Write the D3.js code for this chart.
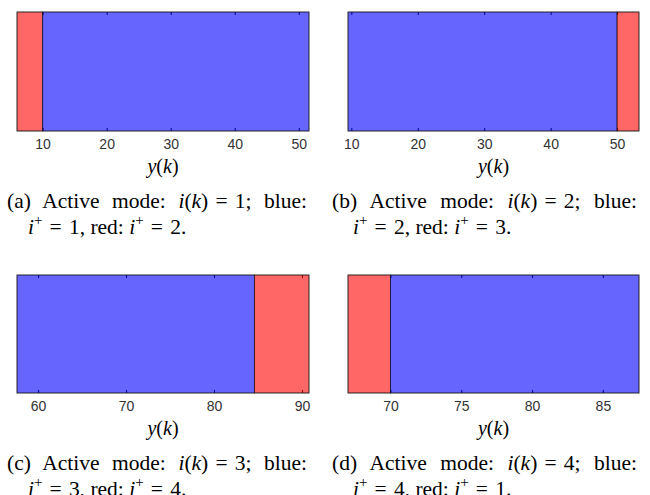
<!DOCTYPE html>
<html>
<head>
<meta charset="utf-8">
<style>
  body { margin: 0; background: #fff; }
  .axis text { font: 14px Arial, "Liberation Sans", sans-serif; fill: #333; }
  .lbl { font: 20px "Liberation Serif", "Times New Roman", serif; fill: #000; }
  .cap { font: 21.5px "Liberation Serif", "Times New Roman", serif; fill: #000; }
  .it { font-style: italic; }
</style>
</head>
<body>
<svg width="650" height="495"></svg>
<script src="https://d3js.org/d3.v7.min.js"></script>
<script>

// one entry per sub-figure (a)..(d)
var panelLabels = ["a", "b", "c", "d"];
var xDomains = [[6, 51.6], [9.5, 53.3], [57.6, 90.8], [67, 87.55]];
var xTicks = [[10, 20, 30, 40, 50], [10, 20, 30, 40, 50], [60, 70, 80, 90], [70, 75, 80, 85]];
var regionsA = [{from: 6, to: 10, set: "red"}, {from: 10, to: 51.6, set: "blue"}];
var regionsB = [{from: 9.5, to: 50, set: "blue"}, {from: 50, to: 53.3, set: "red"}];
var regionsC = [{from: 57.6, to: 84.6, set: "blue"}, {from: 84.6, to: 90.8, set: "red"}];
var regionsD = [{from: 67, to: 70, set: "red"}, {from: 70, to: 87.55, set: "blue"}];
var regions = [regionsA, regionsB, regionsC, regionsD];
var activeMode = [1, 2, 3, 4];
var blueNext = [1, 2, 3, 4];
var redNext = [2, 3, 4, 1];

var svg = d3.select("svg");

var cols = [{x0: 17, x1: 309, cap: 7, capEnd: 307}, {x0: 348, x1: 639, cap: 332, capEnd: 637}];
var rows = [{y0: 12, y1: 131}, {y0: 275, y1: 393}];

var setColor = d3.scaleOrdinal().domain(["blue", "red"]).range(["#0000ff", "#ff0000"]);
var eq = "\u2004=\u2004";

panelLabels.forEach(function(label, i) {
  var col = cols[i % 2],
      row = rows[Math.floor(i / 2)];

  var x = d3.scaleLinear().domain(xDomains[i]).range([col.x0, col.x1]);
  var g = svg.append("g");

  // ticks first, the shaded regions are drawn over them
  g.append("g")
      .attr("class", "axis")
      .attr("transform", "translate(0," + row.y1 + ")")
      .call(d3.axisBottom(x).tickValues(xTicks[i]).tickSizeInner(-3).tickSizeOuter(0).tickPadding(8))
      .call(function(a) { a.select(".domain").remove(); a.selectAll("line").attr("stroke", "#000"); });

  g.append("g")
      .attr("class", "axis")
      .attr("transform", "translate(0," + row.y0 + ")")
      .call(d3.axisTop(x).tickValues(xTicks[i]).tickSizeInner(-3).tickSizeOuter(0).tickFormat(""))
      .call(function(a) { a.select(".domain").remove(); a.selectAll("line").attr("stroke", "#000"); });

  g.selectAll("rect.region")
    .data(regions[i])
    .join("rect")
      .attr("class", "region")
      .attr("x", function(d) { return x(d.from); })
      .attr("width", function(d) { return x(d.to) - x(d.from); })
      .attr("y", row.y0)
      .attr("height", row.y1 - row.y0)
      .attr("fill", function(d) { return setColor(d.set); })
      .attr("fill-opacity", 0.6)
      .attr("stroke", "#000")
      .attr("stroke-opacity", 0.55)
      .attr("stroke-width", 1);

  g.append("rect")
      .attr("x", col.x0)
      .attr("y", row.y0)
      .attr("width", col.x1 - col.x0)
      .attr("height", row.y1 - row.y0)
      .attr("fill", "none")
      .attr("stroke", "#262626")
      .attr("stroke-width", 0.5);

  // x label y(k)
  var xl = g.append("text")
      .attr("class", "lbl")
      .attr("text-anchor", "middle")
      .attr("x", (col.x0 + col.x1) / 2)
      .attr("y", row.y1 + 42);
  xl.append("tspan").attr("class", "it").text("y");
  xl.append("tspan").text("(");
  xl.append("tspan").attr("class", "it").text("k");
  xl.append("tspan").text(")");

  // caption, first line justified to the column width
  var c1 = g.append("text")
      .attr("class", "cap")
      .attr("x", col.cap)
      .attr("y", row.y1 + 77);
  c1.append("tspan").text("(" + label + ") Active mode: ");
  c1.append("tspan").attr("class", "it").text("i");
  c1.append("tspan").text("(");
  c1.append("tspan").attr("class", "it").text("k");
  c1.append("tspan").text(")" + eq + activeMode[i] + "; blue:");
  var natural = c1.node().getComputedTextLength();
  c1.style("word-spacing", Math.max(0, (col.capEnd - col.cap - natural) / 4) + "px");

  var c2 = g.append("text")
      .attr("class", "cap")
      .attr("x", col.cap + 21)
      .attr("y", row.y1 + 103);
  c2.append("tspan").attr("class", "it").text("i");
  c2.append("tspan").attr("dy", -9).style("font-size", "15px").text("+");
  c2.append("tspan").attr("dy", 9).text(eq + blueNext[i] + ", red: ");
  c2.append("tspan").attr("class", "it").text("i");
  c2.append("tspan").attr("dy", -9).style("font-size", "15px").text("+");
  c2.append("tspan").attr("dy", 9).text(eq + redNext[i] + ".");
});

</script>
</body>
</html>
